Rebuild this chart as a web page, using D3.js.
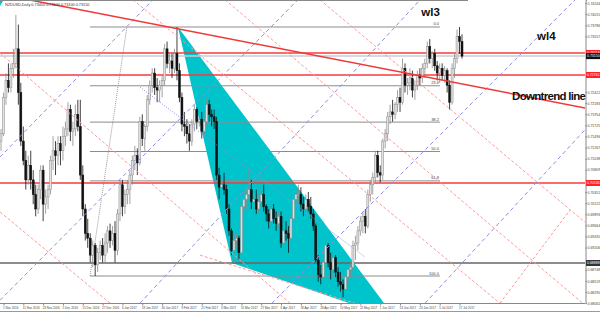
<!DOCTYPE html>
<html>
<head>
<meta charset="utf-8">
<script src="https://d3js.org/d3.v7.min.js"></script>
<style>
body { margin: 0; background: #fff; overflow: hidden; }
text { font-family: "Liberation Sans", Arial, sans-serif; }
</style>
</head>
<body>
<script>
var width = 600;
var height = 313;
var plotW = 585;
var plotH = 303;

// daily NZDUSD candles from 31 Oct 2016, in pips [open, high, low, close]
var ohlc = [
[7140,7165,7120,7155],[7155,7240,7150,7230],[7230,7280,7215,7265],[7265,7300,7240,7250],[7250,7300,7240,7290],
[7290,7330,7270,7300],[7300,7400,7290,7330],[7330,7380,7215,7240],[7240,7260,7130,7140],[7140,7170,7090,7100],
[7100,7120,7040,7060],[7060,7110,7050,7090],[7090,7120,7040,7060],[7060,7080,7010,7030],[7030,7050,6985,7000],
[7000,7050,6990,7040],[7040,7090,7020,7080],[7080,7090,6975,7010],[7010,7040,6990,7025],[7025,7050,7000,7040],
[7040,7110,7030,7100],[7100,7150,7080,7120],[7120,7140,7070,7110],[7110,7150,7090,7135],[7135,7150,7090,7120],
[7120,7170,7100,7150],[7150,7180,7130,7165],[7165,7220,7150,7205],[7205,7215,7140,7160],[7160,7180,7130,7165],
[7165,7215,7150,7195],[7195,7225,7160,7170],[7170,7225,7060,7070],[7070,7090,6985,7000],[7000,7010,6935,6950],
[6950,6980,6920,6940],[6940,6950,6890,6905],[6905,6935,6880,6925],[6925,6930,6862,6885],[6885,6920,6870,6910],
[6910,6935,6895,6925],[6925,6940,6890,6905],[6905,6950,6890,6930],[6930,6965,6910,6955],[6955,6970,6920,6935],
[6935,6965,6925,6950],[6950,6975,6890,6915],[6915,7000,6905,6990],[6990,7060,6975,7050],[7050,7060,6985,7005],
[7005,7040,6990,7030],[7030,7060,7010,7040],[7040,7080,7010,7070],[7070,7110,7050,7100],[7100,7130,7080,7110],
[7110,7125,7070,7095],[7095,7190,7090,7180],[7180,7195,7130,7145],[7145,7175,7120,7170],[7170,7235,7160,7225],
[7225,7265,7215,7255],[7255,7290,7240,7280],[7280,7290,7235,7250],[7250,7270,7220,7245],[7245,7265,7220,7255],
[7255,7275,7230,7265],[7265,7340,7255,7330],[7330,7345,7290,7300],[7300,7320,7280,7305],[7305,7320,7270,7290],
[7290,7330,7280,7320],[7320,7375,7265,7285],[7285,7300,7220,7230],[7230,7240,7160,7175],[7175,7200,7150,7170],
[7170,7185,7135,7155],[7155,7175,7120,7140],[7140,7185,7130,7175],[7175,7215,7160,7205],[7205,7210,7165,7180],
[7180,7195,7170,7185],[7185,7200,7145,7160],[7160,7195,7150,7180],[7180,7230,7170,7215],[7215,7225,7180,7195],
[7195,7205,7170,7190],[7190,7205,7165,7180],[7180,7190,7060,7070],[7070,7085,7020,7045],[7045,7070,7030,7050],
[7050,7075,7030,7040],[7040,7050,6990,7000],[7000,7010,6945,6955],[6955,6960,6905,6915],[6915,6950,6889,6935],
[6935,6950,6920,6940],[6940,6945,6895,6910],[6910,7015,6905,7005],[7005,7040,6995,7020],[7020,7040,7000,7030],
[7030,7085,7020,7040],[7040,7060,7000,7015],[7015,7030,6990,7020],[7020,7040,6990,7000],[7000,7030,6990,7015],
[7015,7045,7000,7030],[7030,7050,6995,7005],[7005,7010,6975,6990],[6990,7000,6960,6975],[6975,7010,6965,7000],
[7000,7010,6970,6980],[6980,6995,6955,6970],[6970,6995,6960,6985],[6985,6995,6920,6930],[6930,6965,6920,6955],
[6955,6975,6935,6950],[6950,6965,6910,6940],[6940,6985,6935,6980],[6980,7030,6970,7020],[7020,7040,7010,7030],
[7030,7050,7010,7030],[7030,7045,6995,7010],[7010,7025,6985,7000],[7000,7030,6990,7020],[7020,7035,6995,7005],
[7005,7025,6980,6990],[6990,7000,6955,6965],[6965,6970,6890,6895],[6895,6905,6850,6865],[6865,6885,6845,6860],
[6860,6900,6855,6890],[6890,6945,6880,6925],[6925,6930,6880,6890],[6890,6910,6855,6875],[6875,6905,6860,6900],
[6900,6905,6860,6870],[6870,6880,6840,6850],[6850,6870,6830,6845],[6845,6855,6818,6835],[6835,6870,6825,6860],
[6860,6885,6845,6875],[6875,6890,6860,6880],[6880,6935,6870,6925],[6925,6945,6895,6930],[6930,6965,6915,6955],
[6955,6985,6945,6975],[6975,6995,6950,6985],[6985,7000,6950,6965],[6965,7040,6960,7030],[7030,7060,7015,7050],
[7050,7075,7030,7065],[7065,7120,7055,7110],[7110,7120,7065,7075],[7075,7090,7055,7070],[7070,7145,7060,7140],
[7140,7165,7125,7155],[7155,7200,7140,7190],[7190,7215,7175,7200],[7200,7225,7180,7195],[7195,7220,7185,7215],
[7215,7245,7200,7230],[7230,7250,7200,7220],[7220,7310,7215,7290],[7290,7300,7240,7255],[7255,7270,7235,7260],
[7260,7290,7245,7270],[7270,7285,7230,7245],[7245,7265,7225,7255],[7255,7285,7245,7275],[7275,7290,7255,7270],
[7270,7300,7260,7290],[7290,7310,7270,7300],[7300,7345,7290,7335],[7335,7350,7300,7310],[7310,7325,7290,7320],
[7320,7330,7285,7295],[7295,7305,7265,7280],[7280,7300,7260,7290],[7290,7300,7265,7275],[7275,7295,7260,7285],
[7285,7290,7240,7255],[7255,7265,7205,7220],[7220,7300,7215,7290],[7290,7320,7270,7310],[7310,7370,7300,7355],
[7355,7375,7320,7345],[7345,7360,7310,7315]
];

var dateLabels = ["1 Nov 2016","11 Nov 2016","23 Nov 2016","5 Dec 2016","15 Dec 2016","27 Dec 2016",
  "6 Jan 2017","18 Jan 2017","30 Jan 2017","9 Feb 2017","21 Feb 2017","3 Mar 2017","15 Mar 2017",
  "27 Mar 2017","6 Apr 2017","18 Apr 2017","28 Apr 2017","10 May 2017","22 May 2017","1 Jun 2017",
  "13 Jun 2017","23 Jun 2017","5 Jul 2017","17 Jul 2017"];

var priceTicks = [0.74244,0.74015,0.73786,0.73557,0.73328,0.73099,0.72870,0.72641,0.72412,0.72183,
  0.71954,0.71725,0.71496,0.71267,0.71038,0.70809,0.70580,0.70351,0.70122,0.69893,0.69664,0.69435,
  0.69206,0.68977,0.68748,0.68519,0.68290,0.68061];

var redLevels = [0.73214, 0.72761, 0.70536];
var supportLevel = 0.68888;

var fibHigh = 0.7375, fibLow = 0.6862;
var fibRatios = [0, 0.236, 0.382, 0.5, 0.618, 1];
var fibLabels = ["0.0", "23.6", "38.2", "50.0", "61.8", "100.0"];
var fibBars = [35.9, 177.1];

// [bar, price] pairs
var wedge = [[71.4, 0.7375], [93.2, 0.6889], [159.4, 0.6773]];
var downtrend = [[-15, 0.7457], [240, 0.7204]];
var blueDashed = [
  [[-0.4, 0.7107], [61.3, 0.7431]],
  [[-0.4, 0.6812], [119.8, 0.7431]],
  [[56.1, 0.6806], [169.1, 0.7431]],
  [[109.3, 0.6806], [231.6, 0.7431]],
  [[171.1, 0.6806], [235.6, 0.7163]]
];
var blueDotted = [[56.1, 0.7251], [146.9, 0.6901]];
var fibTrend = [[35.9, 0.6862], [50.8, 0.7375]];
var pinkDashed = [
  [[-0.4, 0.7321], [116.6, 0.6806]],
  [[-0.4, 0.6994], [44.0, 0.6806]],
  [[53.3, 0.7431], [201.3, 0.6806]],
  [[90.4, 0.7431], [235.6, 0.6802]],
  [[128.7, 0.7431], [235.6, 0.6973]],
  [[201.3, 0.6806], [229.6, 0.6998]],
  [[80.3, 0.6905], [142.8, 0.6806]]
];
var notes = [
  {text: "wl3", bar: 169.6, price: 0.73976, spacing: 0},
  {text: "wl4", bar: 216.3, price: 0.73480, spacing: 0},
  {text: "Downtrend line", bar: 206.2, price: 0.72250, spacing: -0.7}
];

var x = d3.scaleLinear().domain([0, 186]).range([1, 462]);
var y = d3.scaleLinear().domain([0.68064, 0.74306]).range([plotH, 0]);

var start = new Date(2016, 9, 31);
var barDates = [];
for (var d = new Date(start); barDates.length < ohlc.length; d.setDate(d.getDate() + 1)) {
  if (d.getDay() != 0 && d.getDay() != 6) barDates.push(d3.timeFormat("%-d %b %Y")(d));
}
var lastClose = ohlc[ohlc.length - 1][3] / 10000;
var boxed = redLevels.concat([lastClose, supportLevel]);

var svg = d3.select("body").append("svg")
  .attr("width", width)
  .attr("height", height);

svg.append("defs").append("clipPath").attr("id", "plot")
  .append("rect").attr("width", plotW).attr("height", plotH);

var plot = svg.append("g").attr("clip-path", "url(#plot)");
var line = d3.line().x(function(p) { return x(p[0]); }).y(function(p) { return y(p[1]); });

// cyan wedge behind the candles
plot.append("path")
  .attr("d", line(wedge) + "Z")
  .style("fill", "#00c4cc");

// fibonacci levels
fibRatios.forEach(function(r, i) {
  var p = fibHigh - r * (fibHigh - fibLow);
  plot.append("line")
    .attr("x1", x(fibBars[0])).attr("x2", x(fibBars[1]))
    .attr("y1", y(p)).attr("y2", y(p))
    .style("stroke", "#8c8c8c").style("stroke-width", 1);
  plot.append("text")
    .attr("x", x(fibBars[1]) - 1).attr("y", y(p) - 1.5)
    .attr("text-anchor", "end")
    .style("font-size", "4px").style("fill", "#444")
    .text(fibLabels[i]);
});
plot.append("path").attr("d", line(fibTrend))
  .style("fill", "none").style("stroke", "#999").style("stroke-dasharray", "1,1");

// horizontal levels
plot.append("line")
  .attr("x1", 0).attr("x2", plotW).attr("y1", y(lastClose)).attr("y2", y(lastClose))
  .style("stroke", "#c9ccd6").style("stroke-width", 1.5);
redLevels.forEach(function(p) {
  plot.append("line")
    .attr("x1", 0).attr("x2", plotW).attr("y1", y(p)).attr("y2", y(p))
    .style("stroke", "#f43c3c").style("stroke-width", 1.6);
});
plot.append("line")
  .attr("x1", 0).attr("x2", plotW).attr("y1", y(supportLevel)).attr("y2", y(supportLevel))
  .style("stroke", "#666").style("stroke-width", 1.5);

// candles
var candles = plot.selectAll("g.candle").data(ohlc).enter().append("g");
candles.append("line")
  .attr("x1", function(c, i) { return x(i); })
  .attr("x2", function(c, i) { return x(i); })
  .attr("y1", function(c) { return y(c[1] / 10000); })
  .attr("y2", function(c) { return y(c[2] / 10000); })
  .style("stroke", function(c) { return c[3] >= c[0] ? "#8a8a8a" : "#111"; })
  .style("stroke-width", 0.8);
candles.append("rect")
  .attr("x", function(c, i) { return x(i) - 1; })
  .attr("width", 2)
  .attr("y", function(c) { return y(Math.max(c[0], c[3]) / 10000); })
  .attr("height", function(c) { return Math.max(1, Math.abs(y(c[0] / 10000) - y(c[3] / 10000))); })
  .style("fill", function(c) { return c[3] >= c[0] ? "#e2e2e2" : "#111"; })
  .style("stroke", function(c) { return c[3] >= c[0] ? "#8a8a8a" : "#111"; })
  .style("stroke-width", 0.5);

// channel lines
blueDashed.forEach(function(l) {
  plot.append("path").attr("d", line(l))
    .style("fill", "none").style("stroke", "#8f8fe0").style("stroke-dasharray", "4,3");
});
plot.append("path").attr("d", line(blueDotted))
  .style("fill", "none").style("stroke", "#8f8fe0").style("stroke-dasharray", "1,1.5");
pinkDashed.forEach(function(l) {
  plot.append("path").attr("d", line(l))
    .style("fill", "none").style("stroke", "#ff9a9a").style("stroke-dasharray", "3,2");
});
plot.append("path").attr("d", line(downtrend))
  .style("fill", "none").style("stroke", "#f03838").style("stroke-width", 1.5);

notes.forEach(function(n) {
  svg.append("text")
    .attr("x", x(n.bar)).attr("y", y(n.price))
    .style("font-size", "11.5px").style("font-weight", "bold")
    .style("letter-spacing", n.spacing + "px").style("fill", "#111")
    .text(n.text);
});

// info line and icon
svg.append("line").attr("x1", 0).attr("x2", 468).attr("y1", 0.5).attr("y2", 0.5)
  .style("stroke", "#888");
svg.append("path").attr("d", "M0,1L3,1L0,6Z").style("fill", "#00c4cc");
svg.append("text").attr("x", 5).attr("y", 5.5)
  .style("font-size", "3.8px").style("fill", "#333")
  .text("NZDUSD,Daily  0.73450 0.73600 0.73100 0.73150");

// price axis, ticks hidden under the level boxes are left out
var visibleTicks = priceTicks.filter(function(t) {
  return boxed.every(function(b) { return Math.abs(y(t) - y(b)) > 6; });
});
var yAxis = svg.append("g")
  .attr("transform", "translate(" + (plotW + 0.5) + ",0)")
  .call(d3.axisRight(y).tickValues(visibleTicks).tickSize(1.5).tickPadding(0.5).tickFormat(d3.format(".5f")));
yAxis.select(".domain").style("stroke", "#888");
yAxis.selectAll("text").style("font-size", "3.5px").style("fill", "#444");
yAxis.selectAll("line").style("stroke", "#888");

function priceBox(p, color) {
  svg.append("rect").attr("x", plotW + 1).attr("y", y(p) - 3)
    .attr("width", width - plotW).attr("height", 6).style("fill", color);
  svg.append("text").attr("x", plotW + 2).attr("y", y(p) + 1.3)
    .style("font-size", "3.5px").style("fill", "#fff")
    .text(d3.format(".5f")(p));
}
redLevels.forEach(function(p) { priceBox(p, "#f22"); });
priceBox(supportLevel, "#333");
priceBox(lastClose, "#111");

// date axis
var labelBars = dateLabels.map(function(s) { return barDates.indexOf(s); });
var xAxis = svg.append("g")
  .attr("transform", "translate(0," + (plotH + 0.5) + ")")
  .call(d3.axisBottom(x).tickValues(labelBars).tickSize(2).tickPadding(1)
    .tickFormat(function(b) { return barDates[b]; }));
xAxis.select(".domain").style("stroke", "#888").attr("d", "M0,0H" + plotW);
xAxis.selectAll("text").attr("text-anchor", "start").attr("dx", -1)
  .style("font-size", "3px").style("fill", "#444");
xAxis.selectAll("line").style("stroke", "#888");

svg.append("line").attr("x1", 0).attr("x2", width).attr("y1", 311.5).attr("y2", 311.5)
  .style("stroke", "#999");
</script>
</body>
</html>
